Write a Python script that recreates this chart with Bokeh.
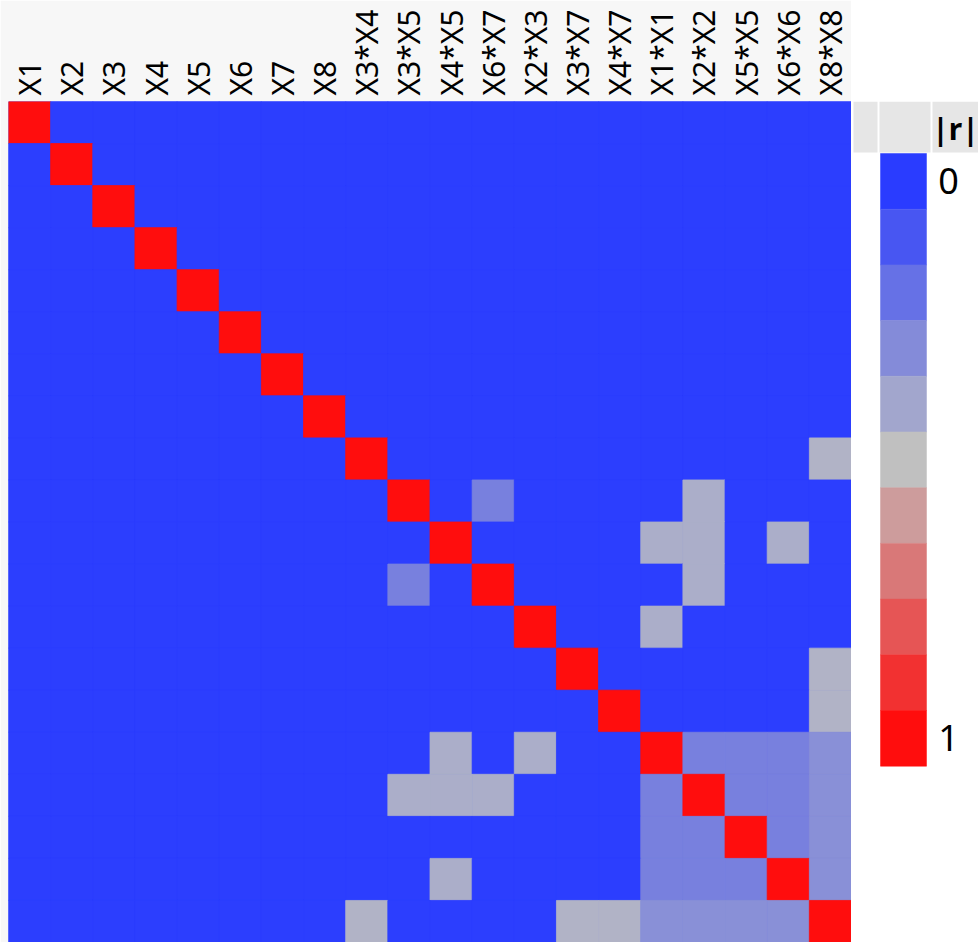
import math
from bokeh.plotting import figure
from bokeh.models import ColumnDataSource, LinearColorMapper, FactorRange, Range1d
from bokeh.transform import transform
from bokeh.layouts import row
from bokeh.embed import file_html
from bokeh.resources import INLINE
from bokeh.core.properties import value

# ---------------- data ----------------
labels = ["X1", "X2", "X3", "X4", "X5", "X6", "X7", "X8",
          "X3*X4", "X3*X5", "X4*X5", "X6*X7", "X2*X3", "X3*X7", "X4*X7",
          "X1*X1", "X2*X2", "X5*X5", "X6*X6", "X8*X8"]

#           X1    X2    X3    X4    X5    X6    X7    X8   X3X4  X3X5  X4X5  X6X7  X2X3  X3X7  X4X7  X1X1  X2X2  X5X5  X6X6  X8X8
r_X1   = [1.00, 0.01, 0.01, 0.01, 0.01, 0.01, 0.01, 0.01, 0.01, 0.01, 0.01, 0.01, 0.01, 0.01, 0.01, 0.01, 0.01, 0.01, 0.01, 0.01]
r_X2   = [0.01, 1.00, 0.01, 0.01, 0.01, 0.01, 0.01, 0.01, 0.01, 0.01, 0.01, 0.01, 0.01, 0.01, 0.01, 0.01, 0.01, 0.01, 0.01, 0.01]
r_X3   = [0.01, 0.01, 1.00, 0.01, 0.01, 0.01, 0.01, 0.01, 0.01, 0.01, 0.01, 0.01, 0.01, 0.01, 0.01, 0.01, 0.01, 0.01, 0.01, 0.01]
r_X4   = [0.01, 0.01, 0.01, 1.00, 0.01, 0.01, 0.01, 0.01, 0.01, 0.01, 0.01, 0.01, 0.01, 0.01, 0.01, 0.01, 0.01, 0.01, 0.01, 0.01]
r_X5   = [0.01, 0.01, 0.01, 0.01, 1.00, 0.01, 0.01, 0.01, 0.01, 0.01, 0.01, 0.01, 0.01, 0.01, 0.01, 0.01, 0.01, 0.01, 0.01, 0.01]
r_X6   = [0.01, 0.01, 0.01, 0.01, 0.01, 1.00, 0.01, 0.01, 0.01, 0.01, 0.01, 0.01, 0.01, 0.01, 0.01, 0.01, 0.01, 0.01, 0.01, 0.01]
r_X7   = [0.01, 0.01, 0.01, 0.01, 0.01, 0.01, 1.00, 0.01, 0.01, 0.01, 0.01, 0.01, 0.01, 0.01, 0.01, 0.01, 0.01, 0.01, 0.01, 0.01]
r_X8   = [0.01, 0.01, 0.01, 0.01, 0.01, 0.01, 0.01, 1.00, 0.01, 0.01, 0.01, 0.01, 0.01, 0.01, 0.01, 0.01, 0.01, 0.01, 0.01, 0.01]
r_X3X4 = [0.01, 0.01, 0.01, 0.01, 0.01, 0.01, 0.01, 0.01, 1.00, 0.01, 0.01, 0.01, 0.01, 0.01, 0.01, 0.01, 0.01, 0.01, 0.01, 0.45]
r_X3X5 = [0.01, 0.01, 0.01, 0.01, 0.01, 0.01, 0.01, 0.01, 0.01, 1.00, 0.01, 0.26, 0.01, 0.01, 0.01, 0.01, 0.43, 0.01, 0.01, 0.01]
r_X4X5 = [0.01, 0.01, 0.01, 0.01, 0.01, 0.01, 0.01, 0.01, 0.01, 0.01, 1.00, 0.01, 0.01, 0.01, 0.01, 0.43, 0.43, 0.01, 0.43, 0.01]
r_X6X7 = [0.01, 0.01, 0.01, 0.01, 0.01, 0.01, 0.01, 0.01, 0.01, 0.26, 0.01, 1.00, 0.01, 0.01, 0.01, 0.01, 0.43, 0.01, 0.01, 0.01]
r_X2X3 = [0.01, 0.01, 0.01, 0.01, 0.01, 0.01, 0.01, 0.01, 0.01, 0.01, 0.01, 0.01, 1.00, 0.01, 0.01, 0.43, 0.01, 0.01, 0.01, 0.01]
r_X3X7 = [0.01, 0.01, 0.01, 0.01, 0.01, 0.01, 0.01, 0.01, 0.01, 0.01, 0.01, 0.01, 0.01, 1.00, 0.01, 0.01, 0.01, 0.01, 0.01, 0.45]
r_X4X7 = [0.01, 0.01, 0.01, 0.01, 0.01, 0.01, 0.01, 0.01, 0.01, 0.01, 0.01, 0.01, 0.01, 0.01, 1.00, 0.01, 0.01, 0.01, 0.01, 0.45]
r_X1X1 = [0.01, 0.01, 0.01, 0.01, 0.01, 0.01, 0.01, 0.01, 0.01, 0.01, 0.43, 0.01, 0.43, 0.01, 0.01, 1.00, 0.26, 0.26, 0.26, 0.32]
r_X2X2 = [0.01, 0.01, 0.01, 0.01, 0.01, 0.01, 0.01, 0.01, 0.01, 0.43, 0.43, 0.43, 0.01, 0.01, 0.01, 0.26, 1.00, 0.26, 0.26, 0.32]
r_X5X5 = [0.01, 0.01, 0.01, 0.01, 0.01, 0.01, 0.01, 0.01, 0.01, 0.01, 0.01, 0.01, 0.01, 0.01, 0.01, 0.26, 0.26, 1.00, 0.26, 0.32]
r_X6X6 = [0.01, 0.01, 0.01, 0.01, 0.01, 0.01, 0.01, 0.01, 0.01, 0.01, 0.43, 0.01, 0.01, 0.01, 0.01, 0.26, 0.26, 0.26, 1.00, 0.32]
r_X8X8 = [0.01, 0.01, 0.01, 0.01, 0.01, 0.01, 0.01, 0.01, 0.45, 0.01, 0.01, 0.01, 0.01, 0.45, 0.45, 0.32, 0.32, 0.32, 0.32, 1.00]

rows = [r_X1, r_X2, r_X3, r_X4, r_X5, r_X6, r_X7, r_X8, r_X3X4, r_X3X5,
        r_X4X5, r_X6X7, r_X2X3, r_X3X7, r_X4X7, r_X1X1, r_X2X2, r_X5X5,
        r_X6X6, r_X8X8]

legend_levels = [0.0, 0.1, 0.2, 0.3, 0.4, 0.5, 0.6, 0.7, 0.8, 0.9, 1.0]
legend_tick_text = ["0", "1"]
legend_tick_vals = [0.0, 1.0]
legend_title = "|r|"

# ---------------- colours ----------------
BLUE = (42, 60, 255)
GRAY = (192, 192, 192)
RED = (255, 13, 13)


def lerp(c1, c2, t):
    return tuple(int(round(a + (b - a) * t)) for a, b in zip(c1, c2))


def cmap(v):
    if v <= 0.5:
        c = lerp(BLUE, GRAY, v / 0.5)
    else:
        c = lerp(GRAY, RED, (v - 0.5) / 0.5)
    return "#%02x%02x%02x" % c


palette = [cmap(i / 255) for i in range(256)]
mapper = LinearColorMapper(palette=palette, low=0, high=1)

xs, ys, vs = [], [], []
for rl, rv in zip(labels, rows):
    for cl, v in zip(labels, rv):
        xs.append(cl)
        ys.append(rl)
        vs.append(v)
src = ColumnDataSource(dict(x=xs, y=ys, r=vs))

FONT = "Noto Sans"
W, H = 978, 942          # whole picture
GRID_L, GRID_T = 8, 101  # top-left corner of the matrix
GRID_R = 851             # right edge of the matrix

# ---------------- heatmap ----------------
p = figure(width=GRID_R, height=H,
           x_range=FactorRange(*labels),
           y_range=FactorRange(*list(reversed(labels))),
           x_axis_location="above", y_axis_location=None,
           toolbar_location=None, output_backend="svg",
           min_border_left=GRID_L, min_border_right=0, min_border_bottom=0,
           min_border_top=GRID_T, outline_line_color=None,
           border_fill_color="#f7f7f7", background_fill_color=cmap(0.01))
p.rect(x="x", y="y", width=1, height=1, source=src,
       fill_color=transform("r", mapper), line_color=transform("r", mapper),
       line_width=0.8)
p.grid.visible = False
ax = p.xaxis[0]
ax.major_label_orientation = math.pi / 2
ax.major_label_text_font = FONT
ax.major_label_text_font_size = "30px"
ax.major_label_text_color = "black"
ax.major_tick_line_color = None
ax.minor_tick_line_color = None
ax.axis_line_color = None
ax.major_tick_out = 0
ax.major_tick_in = 0
ax.major_label_standoff = 6

# ---------------- legend (data units = picture pixels) ----------------
leg = figure(width=W - GRID_R, height=H,
             x_range=Range1d(GRID_R, W), y_range=Range1d(H, GRID_T),
             toolbar_location=None, output_backend="svg",
             min_border_left=0, min_border_right=0, min_border_bottom=0,
             min_border_top=GRID_T, outline_line_color=None,
             x_axis_location=None, y_axis_location=None,
             border_fill_color="white", background_fill_color="white")
leg.grid.visible = False

# header boxes
leg.quad(left=[853, 879, 932], right=[877, 930, W], top=[GRID_T] * 3, bottom=[152] * 3,
         fill_color="#e6e6e6", line_color=None)

bar_top, sw_h = 153, 55.7
n = len(legend_levels)
tops = [bar_top + sw_h * i for i in range(n)]
bots = [t + sw_h for t in tops]
sw_cols = [cmap(v) for v in legend_levels]
leg.quad(left=[880] * n, right=[926] * n, top=tops, bottom=bots,
         fill_color=sw_cols, line_color=sw_cols, line_width=0.5)

leg.text(x=[955], y=[128], text=[legend_title], text_font=value(FONT),
         text_font_style="bold", text_font_size="30px", text_color="black",
         text_align="center", text_baseline="middle")
tick_y = [bar_top + sw_h * (v * (n - 1) + 0.5) for v in legend_tick_vals]
leg.text(x=[948] * len(tick_y), y=tick_y, text=legend_tick_text, text_font=value(FONT),
         text_font_size="36px", text_color="black",
         text_align="center", text_baseline="middle")

layout = row(p, leg)
open("out.html", "w").write(file_html(layout, INLINE))
